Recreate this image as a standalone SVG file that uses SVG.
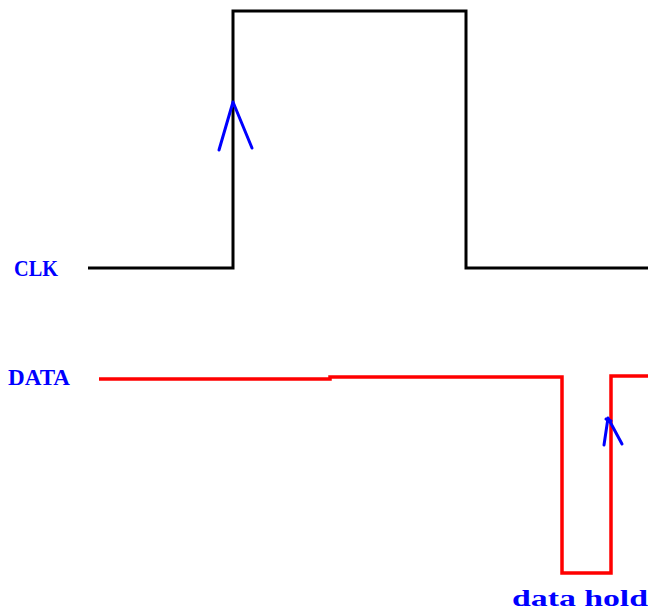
<svg xmlns="http://www.w3.org/2000/svg" width="648" height="610" viewBox="0 0 648 610">
<style>
.lbl{font-family:"Liberation Serif",serif;font-weight:bold;fill:#0000ff;font-size:24px}
.clk{fill:none;stroke:#000;stroke-width:3}
.data{fill:none;stroke:#ff0000;stroke-width:3.5}
.arr{fill:none;stroke:#0000ff;stroke-width:3;stroke-linejoin:round;stroke-linecap:round}
</style>
<rect width="648" height="610" fill="#fff"/>
<g id="clk-label"><text class="lbl" x="14" y="276" textLength="44" lengthAdjust="spacingAndGlyphs">CLK</text></g>
<g id="data-label"><text class="lbl" x="8" y="385" textLength="62" lengthAdjust="spacingAndGlyphs">DATA</text></g>
<g id="hold-label"><text class="lbl" x="512" y="606" textLength="136" lengthAdjust="spacingAndGlyphs">data hold</text></g>
<g id="connectors">
<polyline id="clk-wave" class="clk" points="88,268 233,268 233,11 466,11 466,268 648,268"/>
<polyline id="data-wave" class="data" points="99,379 330,379 330,377 562,377 562,573 611,573 611,376 648,376"/>
<polyline id="clk-arrow" class="arr" points="219,150 233,102 252,148"/>
<polyline id="data-arrow" class="arr" points="604,445 608,418 622,444"/>
<line class="arr" x1="606" y1="419" x2="611" y2="421" stroke-width="2"/>
</g>
</svg>
